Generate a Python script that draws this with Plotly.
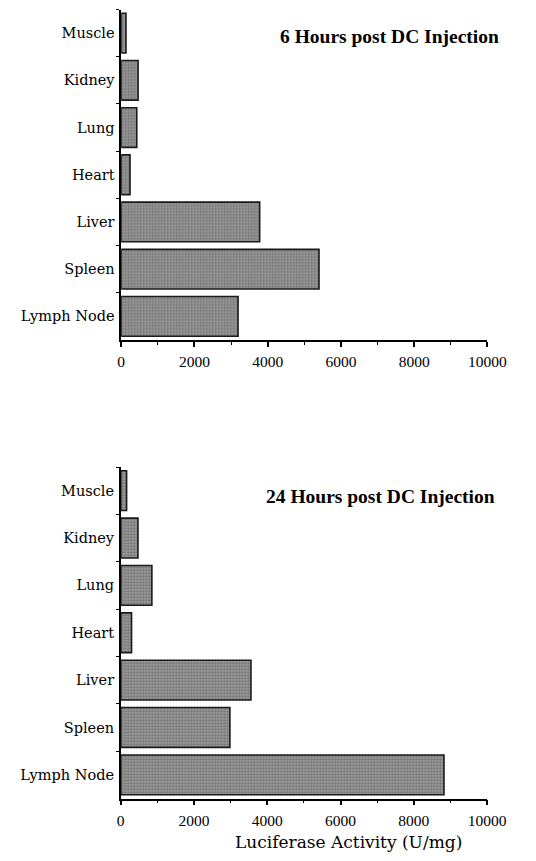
import plotly.graph_objects as go

organs = ["Muscle", "Kidney", "Lung", "Heart", "Liver", "Spleen", "Lymph Node"]
hours6 = [130, 460, 425, 240, 3780, 5400, 3190]
hours24 = [160, 470, 850, 295, 3555, 2980, 8825]
titles = ["6 Hours post DC Injection", "24 Hours post DC Injection"]
x_ticks = [0, 2000, 4000, 6000, 8000, 10000]
x_title = "Luciferase Activity (U/mg)"

# page body has an 8px margin; figure is sized to fit the 536x861 window
OFF = 8
W, H = 536 - 2 * OFF, 861 - 2 * OFF

def px_x(p):
    return (p - OFF) / W

def px_y(p):
    return 1 - (p - OFF) / H

fig = go.Figure()

bar_style = dict(
    orientation="h",
    width=0.84,
    marker=dict(
        color="#8e8e8e",
        line=dict(color="#1a1a1a", width=1.6),
        pattern=dict(shape=".", bgcolor="#9c9c9c", fgcolor="#4a4a4a", size=3, solidity=0.45),
    ),
    showlegend=False,
    hoverinfo="x+y",
)

fig.add_trace(go.Bar(x=hours6, y=organs, xaxis="x", yaxis="y", **bar_style))
fig.add_trace(go.Bar(x=hours24, y=organs, xaxis="x2", yaxis="y2", **bar_style))

cat_order = list(reversed(organs))

xcommon = dict(
    range=[0, 10000],
    tickvals=x_ticks,
    ticktext=[str(v) for v in x_ticks],
    ticks="outside",
    ticklen=5,
    tickwidth=1.5,
    tickcolor="black",
    minor=dict(dtick=1000, ticks="outside", ticklen=3, tickwidth=1.2, tickcolor="black", showgrid=False),
    showline=True,
    linecolor="black",
    linewidth=1.5,
    showgrid=False,
    zeroline=False,
    tickfont=dict(family="Liberation Serif", size=15.5, color="black"),
    ticklabelstandoff=2,
    fixedrange=True,
)
ycommon = dict(
    type="category",
    categoryorder="array",
    categoryarray=cat_order,
    range=[-0.5, 6.5],
    tickson="boundaries",
    ticks="outside",
    ticklen=3,
    tickwidth=1.2,
    tickcolor="black",
    showline=True,
    linecolor="black",
    linewidth=1.5,
    showgrid=False,
    zeroline=False,
    tickfont=dict(family="DejaVu Serif", size=14.5, color="black"),
    ticklabelstandoff=2,
    fixedrange=True,
)

fig.update_layout(
    width=W,
    height=H,
    margin=dict(l=0, r=0, t=0, b=0),
    paper_bgcolor="white",
    plot_bgcolor="white",
    xaxis=dict(domain=[px_x(122.5), px_x(506.5)], anchor="y", **xcommon),
    yaxis=dict(domain=[px_y(340), px_y(9.5)], anchor="x", **ycommon),
    xaxis2=dict(domain=[px_x(122), px_x(506)], anchor="y2", **xcommon),
    yaxis2=dict(domain=[px_y(798.5), px_y(467)], anchor="x2", **ycommon),
    annotations=[
        dict(text="<b>" + titles[0] + "</b>", x=px_x(521), y=px_y(36), xref="paper", yref="paper",
             xanchor="right", yanchor="middle", showarrow=False,
             font=dict(family="Liberation Serif", size=19.5, color="black")),
        dict(text="<b>" + titles[1] + "</b>", x=px_x(516.5), y=px_y(496), xref="paper", yref="paper",
             xanchor="right", yanchor="middle", showarrow=False,
             font=dict(family="Liberation Serif", size=19.5, color="black")),
        dict(text=x_title, x=px_x(361), y=px_y(841.5), xref="paper", yref="paper",
             xanchor="center", yanchor="middle", showarrow=False,
             font=dict(family="DejaVu Serif", size=17, color="black")),
    ],
)

fig.write_html("out.html")
